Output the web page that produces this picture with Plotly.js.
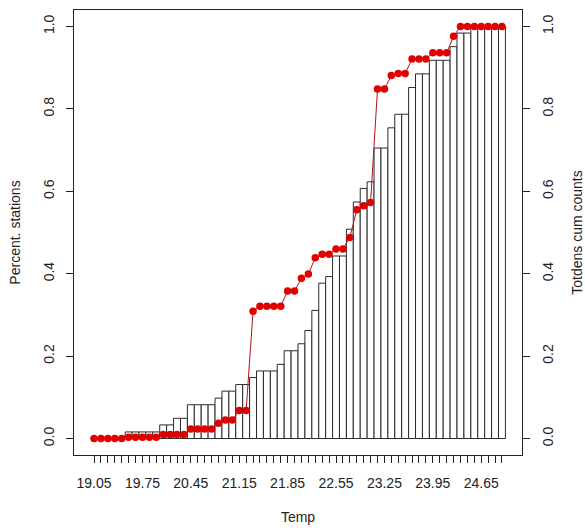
<!DOCTYPE html>
<html>
<head>
<meta charset="utf-8">
<script src="https://cdn.plot.ly/plotly-3.0.1.min.js"></script>
<style>html,body{margin:0;padding:0;background:#fff;}#chart{width:585px;height:528px;}</style>
</head>
<body>
<div id="chart"></div>
<script>
// Temperature classes (bar centres)
const temps = [19.05,19.15,19.25,19.35,19.45,19.55,19.65,19.75,19.85,19.95,
               20.05,20.15,20.25,20.35,20.45,20.55,20.65,20.75,20.85,20.95,
               21.05,21.15,21.25,21.35,21.45,21.55,21.65,21.75,21.85,21.95,
               22.05,22.15,22.25,22.35,22.45,22.55,22.65,22.75,22.85,22.95,
               23.05,23.15,23.25,23.35,23.45,23.55,23.65,23.75,23.85,23.95,
               24.05,24.15,24.25,24.35,24.45,24.55,24.65,24.75,24.85,24.95];
// Labelled ticks
const tickLabels = ["19.05","19.75","20.45","21.15","21.85","22.55","23.25","23.95","24.65"];
// Cumulative share of stations (bars)
const percentStations = [0,0,0,0,0,0.016,0.016,0.016,0.016,0.016,
                         0.033,0.033,0.049,0.049,0.082,0.082,0.082,0.082,0.098,0.115,
                         0.115,0.131,0.131,0.148,0.164,0.164,0.164,0.180,0.213,0.213,
                         0.230,0.262,0.311,0.377,0.393,0.443,0.443,0.508,0.574,0.607,
                         0.623,0.705,0.705,0.754,0.787,0.787,0.852,0.885,0.885,0.918,
                         0.918,0.918,0.951,0.984,0.984,1,1,1,1,1];
// Cumulative Totdens counts (red points)
const totdensCum = [0,0,0,0,0,0.003,0.003,0.003,0.003,0.003,
                    0.010,0.010,0.010,0.010,0.023,0.023,0.023,0.023,0.037,0.045,
                    0.045,0.068,0.068,0.309,0.321,0.321,0.321,0.321,0.358,0.358,
                    0.389,0.399,0.439,0.447,0.447,0.460,0.460,0.488,0.555,0.565,
                    0.573,0.848,0.848,0.881,0.886,0.886,0.921,0.921,0.921,0.936,
                    0.936,0.936,0.976,1,1,1,1,1,1,1];
const yTicks = [0, 0.2, 0.4, 0.6, 0.8, 1.0];
const yTickText = ["0.0","0.2","0.4","0.6","0.8","1.0"];

const tickText = temps.map(t => {
  const s = t.toFixed(2);
  return tickLabels.indexOf(s) >= 0 ? s : "";
});

const ink = "#222";
const traces = [
  {
    type: "bar", x: temps, y: percentStations, width: 0.1,
    marker: {color: "#ffffff", line: {color: "#2a2a2a", width: 1}},
    hoverinfo: "x+y", showlegend: false
  },
  {
    type: "scatter", mode: "lines+markers", x: temps, y: totdensCum, yaxis: "y2",
    line: {color: "#a81818", width: 1},
    marker: {color: "#e00000", size: 7.5},
    showlegend: false
  }
];

const layout = {
  width: 585, height: 528,
  margin: {l: 74, r: 63, t: 10, b: 73, pad: 0},
  paper_bgcolor: "#fff", plot_bgcolor: "#fff",
  font: {family: "Liberation Sans, Arial, sans-serif", size: 14, color: ink},
  bargap: 0,
  showlegend: false,
  xaxis: {
    range: [18.76, 25.24], tickvals: temps, ticktext: tickText, tickangle: 0,
    ticks: "outside", ticklen: 7, tickwidth: 1, tickcolor: ink,
    ticklabelstandoff: 8,
    showline: true, linecolor: ink, linewidth: 1, mirror: true,
    showgrid: false, zeroline: false, automargin: false,
    title: {text: "Temp", standoff: 22, font: {size: 14, color: ink}}
  },
  yaxis: {
    range: [-0.04, 1.04], tickvals: yTicks, ticktext: yTickText, tickangle: -90,
    ticks: "outside", ticklen: 7, tickwidth: 1, tickcolor: ink,
    ticklabelstandoff: 6,
    showline: true, linecolor: ink, linewidth: 1, mirror: true,
    showgrid: false, zeroline: false, automargin: false,
    title: {text: "Percent. stations", standoff: 17, font: {size: 14, color: ink}}
  },
  yaxis2: {
    range: [-0.04, 1.04], tickvals: yTicks, ticktext: yTickText, tickangle: -90,
    overlaying: "y", side: "right",
    ticks: "outside", ticklen: 7, tickwidth: 1, tickcolor: ink,
    ticklabelstandoff: 6,
    showline: false, showgrid: false, zeroline: false, automargin: false,
    title: {text: "Totdens cum counts", standoff: 25, font: {size: 14, color: ink}}
  }
};

Plotly.newPlot("chart", traces, layout, {displayModeBar: false, staticPlot: true});
</script>
</body>
</html>
